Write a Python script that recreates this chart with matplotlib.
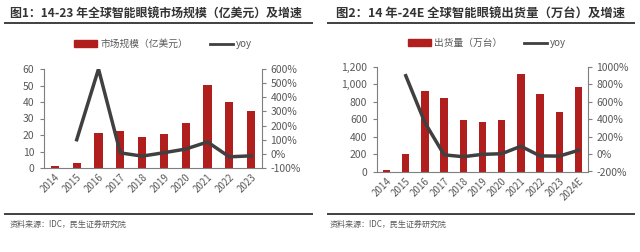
import matplotlib
matplotlib.use("Agg")
from matplotlib import pyplot as plt
from matplotlib.lines import Line2D
from matplotlib.ticker import FuncFormatter, MultipleLocator

plt.rcParams['font.family'] = ['Noto Sans CJK SC', 'DejaVu Sans']

# chart 1: market size (100m USD) and yoy
years1 = ["2014", "2015", "2016", "2017", "2018", "2019", "2020", "2021", "2022", "2023"]
size1 = [1.5, 3, 21, 22.5, 19, 20.5, 27.5, 50.5, 40, 34.5]
yoy1 = [None, 100, 600, 7, -16, 8, 34, 84, -21, -14]

# chart 2: shipments (10k units) and yoy
years2 = ["2014", "2015", "2016", "2017", "2018", "2019", "2020", "2021", "2022", "2023", "2024E"]
ship2 = [20, 200, 920, 840, 590, 570, 590, 1120, 885, 680, 975]
yoy2 = [None, 900, 360, -9, -30, -3, 4, 90, -21, -23, 43]

RED = "#B01E1E"
DARK = "#404040"
GREY = "#595959"

W, H = 640, 252
fig = plt.figure(figsize=(W / 100, H / 100), dpi=100)


def fx(px):
    return px / W


def fy(py):
    return 1 - py / H


def pct(v, pos):
    return f"{v:.0f}%"


def draw(x0, x1, y0, y1, cats, bars, yoy, ylim, ystep, rlim, rstep,
         thousands, title, tx, tsize, line_x, legend_c, label, source_x):
    ax = fig.add_axes([fx(x0), fy(y1), fx(x1 - x0), (y1 - y0) / H])
    xs = list(range(len(cats)))
    ax.bar(xs, bars, width=0.38, color=RED, zorder=2)
    ax.set_xlim(-0.5, len(cats) - 0.5)
    ax.set_ylim(*ylim)
    ax.yaxis.set_major_locator(MultipleLocator(ystep))
    if thousands:
        ax.yaxis.set_major_formatter(FuncFormatter(lambda v, p: f"{v:,.0f}"))
    ax.set_xticks(xs)
    ax.set_xticklabels(cats, rotation=45, ha="right", rotation_mode="anchor")
    ax.tick_params(axis="x", length=0, pad=3, labelsize=7, colors=GREY)
    ax.tick_params(axis="y", length=3, width=0.8, color="#7f7f7f",
                   labelsize=7.5, labelcolor=GREY, pad=4)
    for s in ["top", "right"]:
        ax.spines[s].set_visible(False)
    for s in ["left", "bottom"]:
        ax.spines[s].set_color("#7f7f7f")
        ax.spines[s].set_linewidth(0.8)

    ax2 = ax.twinx()
    px = [x for x, v in zip(xs, yoy) if v is not None]
    py = [v for v in yoy if v is not None]
    ax2.plot(px, py, color=DARK, lw=2.5, zorder=3)
    ax2.set_ylim(*rlim)
    ax2.yaxis.set_major_locator(MultipleLocator(rstep))
    ax2.yaxis.set_major_formatter(FuncFormatter(pct))
    ax2.tick_params(axis="y", length=3, width=0.8, color="#7f7f7f",
                    labelsize=7.5, labelcolor=GREY, pad=3)
    for s in ["top", "left", "bottom"]:
        ax2.spines[s].set_visible(False)
    ax2.spines["right"].set_color("#7f7f7f")
    ax2.spines["right"].set_linewidth(0.8)

    # title and rules
    fig.text(fx(tx), fy(14), title, fontsize=tsize, fontweight="bold",
             color="#333333", va="center", ha="left")
    fig.add_artist(Line2D([fx(line_x[0]), fx(line_x[1])], [fy(23), fy(23)],
                          color=DARK, lw=1.4))
    fig.add_artist(Line2D([fx(line_x[0]), fx(line_x[1])], [fy(214), fy(214)],
                          color=DARK, lw=1.4))
    fig.text(fx(source_x), fy(224), "资料来源：IDC，民生证券研究院", fontsize=5.8,
             color=GREY, va="center", ha="left")

    handles = [plt.Rectangle((0, 0), 1, 1, color=RED),
               Line2D([0], [0], color=DARK, lw=2)]
    fig.legend(handles, [label, "yoy"], loc="center",
               bbox_to_anchor=(fx(legend_c[0]), fy(legend_c[1])), ncol=2,
               frameon=False, fontsize=7, labelcolor=GREY,
               handlelength=2.4, handleheight=0.6, columnspacing=2.2,
               handletextpad=0.3)


draw(44, 262, 69, 168, years1, size1, yoy1, (0, 60), 10, (-100, 600), 100,
     False, "图1：14-23 年全球智能眼镜市场规模（亿美元）及增速", 10, 8.6, (5, 312),
     (163, 44), "市场规模（亿美元）", 10)

draw(377, 588, 67, 171.5, years2, ship2, yoy2, (0, 1200), 200, (-200, 1000), 200,
     True, "图2：14 年-24E 全球智能眼镜出货量（万台）及增速", 336, 8.9, (328, 634),
     (487, 43), "出货量（万台）", 330)

fig.savefig("out.png", dpi=100)
